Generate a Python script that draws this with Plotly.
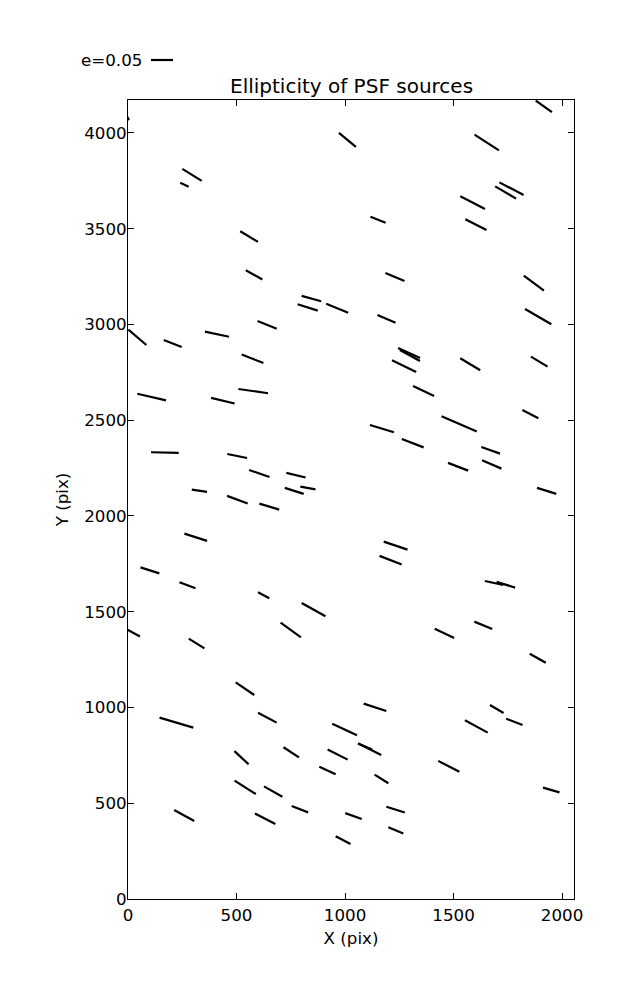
import math
import plotly.graph_objects as go

# Source centres (data units: pix), ellipticity and position angle (deg)
x_src = [1011, -9, 295, 260, 558, 1916, 1653, 1767, 1740, 1588, 1603, 1152,
         581, 845, 828, 964, 641, 43, 206, 410, 574, 109, 437, 577,
         1230, 1870, 1191, 1890, 1295, 1299, 1272, 1577, 1895, 1362, 1854, 1170,
         1526, 1312, 1671, 1521, 1676, 1929, 1233, 1210, 170, 503, 605, 774,
         329, 504, 651, 766, 829, 312, 101, 274, 625, 855, 25, 316,
         750, 539, 642, 223, 998, 1687, 1741, 1458, 1637, 1888, 1138, 1699,
         1780, 1605, 523, 752, 966, 919, 540, 669, 259, 632, 792, 1039,
         991, 1114, 1092, 1168, 1478, 1950, 1233, 1234]
y_src = [3964, 4094, 3781, 3729, 3459, 4139, 3950, 3709, 3689, 3636, 3521, 3547,
         3259, 3135, 3089, 3085, 2998, 2933, 2901, 2949, 2821, 2621, 2602, 2652,
         3248, 3216, 3029, 3041, 2851, 2838, 2782, 2792, 2806, 2653, 2532, 2456,
         2481, 2380, 2343, 2257, 2269, 2131, 1845, 1769, 2331, 2313, 2222, 2213,
         2132, 2085, 2049, 2131, 2146, 1889, 1716, 1638, 1586, 1511, 1389, 1334,
         1405, 1098, 947, 921, 885, 1650, 1641, 1387, 1429, 1257, 1001, 992,
         925, 901, 738, 766, 754, 671, 583, 561, 436, 419, 469, 433,
         307, 782, 796, 627, 693, 569, 467, 358]
ellip = [0.050, 0.027, 0.052, 0.021, 0.047, 0.045, 0.066, 0.062, 0.055, 0.063, 0.054, 0.037,
         0.043, 0.046, 0.048, 0.054, 0.047, 0.054, 0.044, 0.056, 0.053, 0.067, 0.055, 0.068,
         0.047, 0.057, 0.045, 0.069, 0.055, 0.052, 0.061, 0.053, 0.044, 0.053, 0.041, 0.057,
         0.087, 0.053, 0.045, 0.049, 0.048, 0.046, 0.057, 0.054, 0.063, 0.046, 0.049, 0.045,
         0.035, 0.050, 0.047, 0.045, 0.035, 0.054, 0.045, 0.039, 0.029, 0.062, 0.034, 0.042,
         0.057, 0.051, 0.048, 0.080, 0.062, 0.043, 0.044, 0.049, 0.044, 0.042, 0.054, 0.036,
         0.040, 0.059, 0.044, 0.042, 0.051, 0.041, 0.057, 0.048, 0.052, 0.052, 0.040, 0.040,
         0.038, 0.058, 0.035, 0.037, 0.054, 0.039, 0.044, 0.037]
angle_deg = [-39.5, -60, -31.9, -25.5, -31.2, -35.2, -32.9, -27.6, -30.4, -27.2, -27.0, -21.4,
             -29.1, -15.4, -17.5, -22.2, -21.8, -40.4, -21.3, -11.8, -21.8, -13.1, -13.5, -8.2,
             -22.5, -36.5, -23.6, -30.2, -24.4, -28.8, -26.0, -31.0, -30.9, -25.5, -27.4, -16.9,
             -23.2, -20.9, -19.7, -21.1, -23.3, -17.3, -18.6, -21.3, -1.4, -11.5, -19.0, -13.7,
             -8.5, -20.4, -16.9, -17.5, -10.2, -17.8, -17.8, -20.2, -28.0, -29.3, -28.3, -31.7,
             -35.9, -34.2, -28.1, -16.5, -25.1, -12.3, -17.3, -25.7, -22.4, -29.4, -17.8, -30.3,
             -21.1, -28.5, -42.9, -33.2, -26.6, -25.3, -32.3, -29.4, -28.8, -26.9, -21.1, -19.8,
             -27.5, -26.5, -23.2, -32.4, -27.0, -16.1, -17.3, -22.8]

X_MAX = 2055
Y_MAX = 4172
PAGE_PAD = 8  # default body margin of the html page
FIG_W, FIG_H = 637 - PAGE_PAD, 1000 - PAGE_PAD
M_L, M_R, M_T, M_B = 128 - PAGE_PAD, 63, 100 - PAGE_PAD, 101
PLOT_W = FIG_W - M_L - M_R
PLOT_H = FIG_H - M_T - M_B
E_REF = 0.05
E_REF_PX = 22.0
px_per_x = PLOT_W / X_MAX
px_per_y = PLOT_H / Y_MAX

xs, ys = [], []
for x, y, e, a in zip(x_src, y_src, ellip, angle_deg):
    half = 0.5 * e / E_REF * E_REF_PX
    t = math.radians(a)
    dx = half * math.cos(t) / px_per_x
    dy = half * math.sin(t) / px_per_y
    xs += [x - dx, x + dx, None]
    ys += [y - dy, y + dy, None]

fig = go.Figure()
fig.add_trace(go.Scatter(x=xs, y=ys, mode="lines",
                         line=dict(color="black", width=2.2),
                         showlegend=False, hoverinfo="skip"))

FONT = "DejaVu Sans"
axis_common = dict(showgrid=False, zeroline=False, showline=True, mirror="ticks",
                   linecolor="black", linewidth=1, ticks="inside", ticklen=6,
                   tickcolor="black", tickwidth=1,
                   tickfont=dict(family=FONT, size=16.7, color="black"))

fig.update_layout(
    width=FIG_W, height=FIG_H, autosize=False,
    margin=dict(l=M_L, r=M_R, t=M_T, b=M_B),
    paper_bgcolor="white", plot_bgcolor="white",
    xaxis=dict(range=[0, X_MAX], tickvals=[0, 500, 1000, 1500, 2000],
               ticklabelstandoff=1,
               title=dict(text="X (pix)", font=dict(family=FONT, size=16.7, color="black"),
                          standoff=8),
               **axis_common),
    yaxis=dict(range=[0, Y_MAX], tickvals=[0, 500, 1000, 1500, 2000, 2500, 3000, 3500, 4000],
               ticklabelstandoff=-3,
               title=dict(text="Y (pix)", font=dict(family=FONT, size=16.7, color="black"),
                          standoff=11),
               **axis_common),
)

# Title
fig.add_annotation(text="Ellipticity of PSF sources", xref="paper", yref="paper",
                   x=0.5, y=1, xanchor="center", yanchor="bottom", yshift=0,
                   showarrow=False, font=dict(family=FONT, size=20, color="black"))

# Scale key: e=0.05
key_y = 1 + 40 / PLOT_H
fig.add_annotation(text="e=0.05", xref="paper", yref="paper",
                   x=-49 / PLOT_W, y=key_y, xanchor="left", yanchor="middle",
                   showarrow=False, font=dict(family=FONT, size=16.7, color="black"))
kx0 = 23 / PLOT_W
fig.add_shape(type="line", xref="paper", yref="paper",
              x0=kx0, x1=kx0 + E_REF_PX / PLOT_W, y0=key_y, y1=key_y,
              line=dict(color="black", width=2.2))

fig.write_html("out.html")
